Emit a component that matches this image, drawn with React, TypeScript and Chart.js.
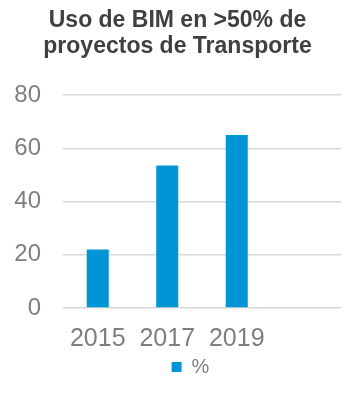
import React, { useEffect, useRef } from "react";
import { Chart, registerables } from "chart.js";

Chart.register(...registerables);

const categories = ["2015", "2017", "2019", ""];
const seriesLabel = "%";
const seriesValues = [22, 53.5, 65, null];
const yTicks = [0, 20, 40, 60, 80];
const titleLines = ["Uso de BIM en >50% de", "proyectos de Transporte"];

const FONT = "'Liberation Sans', Arial, Helvetica, sans-serif";

const legendShift = {
  id: "legendShift",
  afterLayout(chart: any) {
    if (chart.legend) {
      chart.legend.left += 13;
      chart.legend.right += 13;
    }
  },
};

export default function App() {
  const ref = useRef<HTMLCanvasElement | null>(null);

  useEffect(() => {
    if (!ref.current) return;
    const chart = new Chart(ref.current, {
      type: "bar",
      data: {
        labels: categories,
        datasets: [
          {
            label: seriesLabel,
            data: seriesValues,
            backgroundColor: "#0096D6",
            borderWidth: 0,
            categoryPercentage: 1,
            barPercentage: 0.317,
          },
        ],
      },
      plugins: [legendShift],
      options: {
        animation: false,
        responsive: false,
        maintainAspectRatio: false,
        layout: { padding: { left: 14, right: 23, top: 0, bottom: 26 } },
        plugins: {
          title: {
            display: true,
            text: titleLines,
            color: "#404040",
            font: { family: FONT, size: 23, weight: "bold", lineHeight: 1.12 },
            padding: { top: 8, bottom: 35.5 },
          },
          legend: {
            display: true,
            position: "bottom",
            labels: {
              color: "#7f7f7f",
              font: { family: FONT, size: 20 },
              boxWidth: 10,
              boxHeight: 10,
              padding: 6,
            },
          },
          tooltip: { enabled: false },
        },
        scales: {
          x: {
            grid: { display: false, drawTicks: false },
            border: { display: false },
            afterFit: (axis: any) => {
              axis.paddingLeft = 0;
              axis.paddingRight = 0;
              axis.height = 43;
            },
            ticks: {
              color: "#7f7f7f",
              font: { family: FONT, size: 25 },
              padding: 16,
              maxRotation: 0,
              autoSkip: false,
            },
          },
          y: {
            min: 0,
            max: 80,
            afterBuildTicks: (axis: any) => {
              axis.ticks = yTicks.map((v) => ({ value: v }));
            },
            afterFit: (axis: any) => {
              axis.width = 49;
            },
            grid: { color: "#d9d9d9", lineWidth: 1.5, drawTicks: false },
            border: { display: false },
            ticks: {
              color: "#7f7f7f",
              font: { family: FONT, size: 24 },
              padding: 22,
              stepSize: 20,
            },
          },
        },
      },
    });
    return () => chart.destroy();
  }, []);

  return (
    <div style={{ position: "absolute", left: 0, top: 0, width: 364, height: 413, background: "#fff" }}>
      <canvas ref={ref} width={364} height={413} style={{ display: "block" }} />
    </div>
  );
}
